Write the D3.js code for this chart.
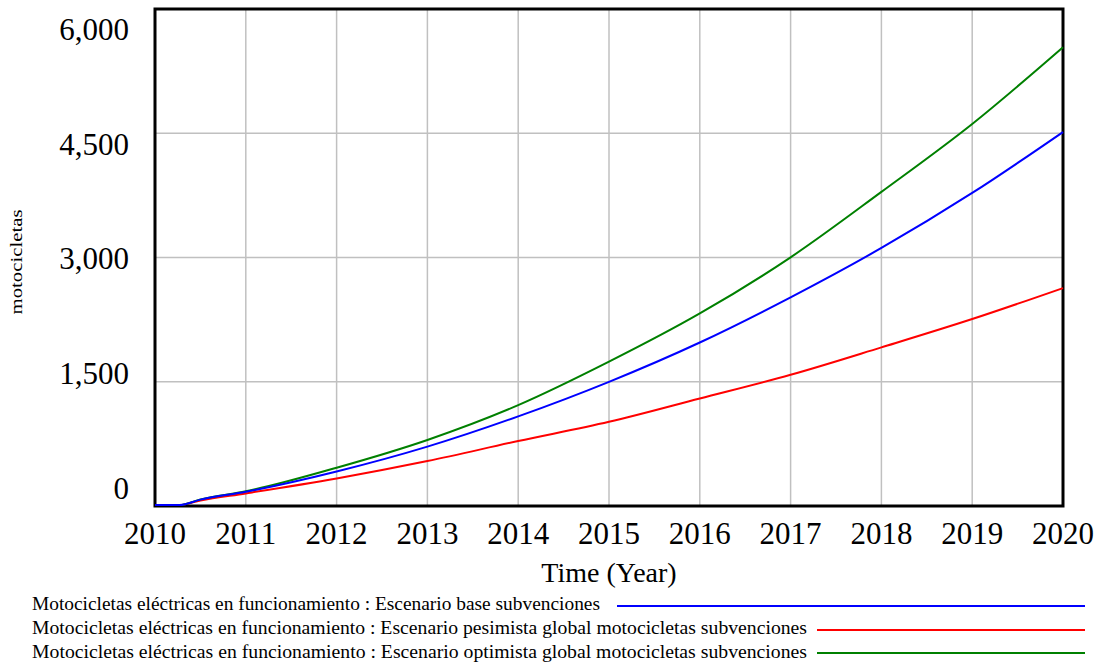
<!DOCTYPE html>
<html><head><meta charset="utf-8">
<script src="https://cdn.jsdelivr.net/npm/d3@7"></script>
<style>html,body{margin:0;padding:0;background:#fff;}svg{display:block;font-family:"Liberation Serif","Times New Roman",serif;}</style>
</head><body>
<svg id="c" width="1102" height="666"></svg>
<script>
const years = [2010, 2010.27, 2010.5, 2011, 2012, 2013, 2014, 2015, 2016, 2017, 2018, 2019, 2020];
const baseSeries = [0, 0, 65, 160, 405, 705, 1070, 1487, 1962, 2507, 3103, 3767, 4503];
const pessimistSeries = [0, 0, 55, 140, 320, 530, 772, 1004, 1286, 1572, 1903, 2245, 2619];
const optimistSeries = [0, 0, 68, 165, 450, 785, 1205, 1730, 2312, 2990, 3780, 4600, 5526];
const xTicks = [2010, 2011, 2012, 2013, 2014, 2015, 2016, 2017, 2018, 2019, 2020];
const yTicks = [0, 1500, 3000, 4500, 6000];
const seriesNames = [
  "Motocicletas eléctricas en funcionamiento : Escenario base subvenciones",
  "Motocicletas eléctricas en funcionamiento : Escenario pesimista global motocicletas subvenciones",
  "Motocicletas eléctricas en funcionamiento : Escenario optimista global motocicletas subvenciones"
];
const seriesColors = ["#0000ff", "#ff0000", "#008000"];
const xTitle = "Time (Year)";
const yTitle = "motocicletas";

const svg = d3.select("#c");
const L = 155, R = 1063, T = 9, B = 506;
const x = d3.scaleLinear().domain([2010, 2020]).range([L, R]);
const y = d3.scaleLinear().domain([0, 6000]).range([B, T]);
const yLab = d3.scaleLinear().domain([0, 6000]).range([488, 29]);
const fmt = d3.format(",");

// grid
const g = svg.append("g");
g.selectAll("line.vx").data(xTicks).join("line")
  .attr("x1", d => x(d)).attr("x2", d => x(d)).attr("y1", T).attr("y2", B)
  .attr("stroke", "#c0c0c0").attr("stroke-width", 1.5);
g.selectAll("line.hy").data(yTicks).join("line")
  .attr("x1", L).attr("x2", R).attr("y1", d => y(d)).attr("y2", d => y(d))
  .attr("stroke", "#c0c0c0").attr("stroke-width", 1.5);

// frame
svg.append("rect").attr("x", L).attr("y", T).attr("width", R - L).attr("height", B - T)
  .attr("fill", "none").attr("stroke", "#000").attr("stroke-width", 3);

// series (drawn over the frame, blue on top)
const data = [baseSeries, pessimistSeries, optimistSeries];
const line = d3.line().x((d, i) => x(years[i])).y(d => y(d) - 1).curve(d3.curveMonotoneX);
const plotOrder = [1, 2, 0];
svg.append("g").selectAll("path").data(plotOrder).join("path")
  .attr("d", k => line(data[k])).attr("fill", "none")
  .attr("stroke", k => seriesColors[k]).attr("stroke-width", 2);

// axis labels
svg.selectAll("text.yt").data(yTicks).join("text")
  .attr("x", 129).attr("y", d => yLab(d)).attr("dy", "0.35em")
  .attr("text-anchor", "end").attr("font-size", 31).attr("fill", "#000").text(d => fmt(d));
svg.selectAll("text.xt").data(xTicks).join("text")
  .attr("x", d => x(d)).attr("y", 544)
  .attr("text-anchor", "middle").attr("font-size", 31).attr("fill", "#000").text(d => d);
svg.append("text").attr("x", 609).attr("y", 582).attr("text-anchor", "middle")
  .attr("font-size", 28).attr("fill", "#000").text(xTitle);
svg.append("text").attr("transform", "translate(22,262) rotate(-90)")
  .attr("text-anchor", "middle").attr("font-size", 16).attr("fill", "#000")
  .attr("textLength", 105).attr("lengthAdjust", "spacingAndGlyphs").text(yTitle);

// legend
const legY = [610, 634, 658];
const legTextEnd = [600, 807, 807];
const legLineStart = [617, 817, 817];
const legLineY = [606, 630, 653];
const lg = svg.append("g");
seriesNames.forEach((name, i) => {
  lg.append("text").attr("x", 32).attr("y", legY[i]).attr("font-size", 18).attr("fill", "#000")
    .attr("textLength", legTextEnd[i] - 32).attr("lengthAdjust", "spacingAndGlyphs").text(name);
  lg.append("line").attr("x1", legLineStart[i]).attr("x2", 1085)
    .attr("y1", legLineY[i]).attr("y2", legLineY[i])
    .attr("stroke", seriesColors[i]).attr("stroke-width", 2);
});
</script>
</body></html>
